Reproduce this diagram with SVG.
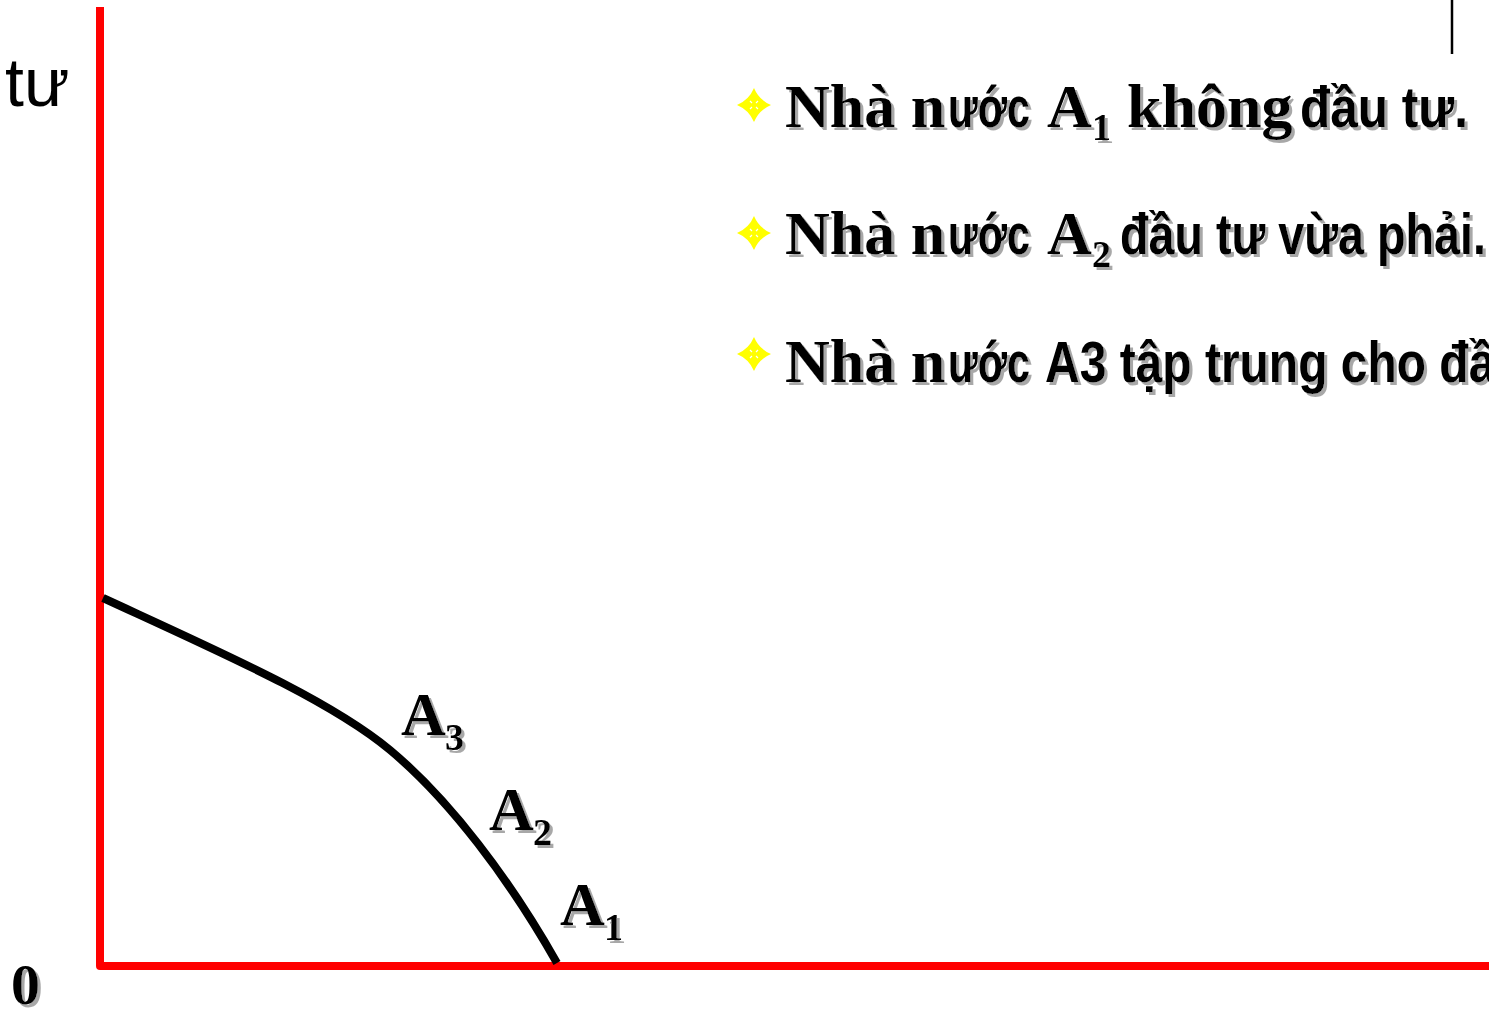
<svg xmlns="http://www.w3.org/2000/svg" width="1489" height="1009" viewBox="0 0 1489 1009">
<style>
.serif{font-family:"Liberation Serif","Times New Roman",serif;font-weight:bold;fill:#000}
.sans{font-family:"Liberation Sans Narrow","Liberation Sans",Arial,sans-serif;font-weight:bold;fill:#000;font-size:57px}
.big{font-size:62px}
.sub{font-size:38px}
.sh{filter:url(#shadow)}
.star{fill:#ffff00}
</style>
<defs>
<filter id="shadow" x="-20%" y="-30%" width="150%" height="170%">
<feDropShadow dx="3" dy="3" stdDeviation="0.4" flood-color="#a8a8a8" flood-opacity="1"/>
</filter>
<g id="bullet">
<path d="M0,-17 Q5,-5 17,0 Q5,5 0,17 Q-5,5 -17,0 Q-5,-5 0,-17 Z"/>
<path d="M-4,-4 L-2,-2 M4,-4 L2,-2 M-4,4 L-2,2 M4,4 L2,2" stroke="#fff" stroke-width="1.2" fill="none"/>
</g>
</defs>
<rect width="1489" height="1009" fill="#fff"/>

<g id="axes">
<path d="M100,7 L100,966 L1489,966" fill="none" stroke="#ff0000" stroke-width="8" stroke-linejoin="round"/>
</g>
<g id="tick">
<line x1="1452" y1="0" x2="1452" y2="54" stroke="#000" stroke-width="2.5"/>
</g>

<g id="connectors">
<path d="M103,598 C220,652 330,700 390,750 C450,800 510,880 557,963" fill="none" stroke="#000" stroke-width="8"/>
</g>

<g id="axis-labels">
<text x="5" y="106" font-family="Liberation Sans, Arial, sans-serif" font-size="68" fill="#000">tư</text>
<text class="serif sh" x="11" y="1004" font-size="58">0</text>
</g>

<g id="label-A3" class="sh">
<text class="serif big" x="401" y="735">A</text>
<text class="serif sub" x="445" y="750">3</text>
</g>
<g id="label-A2" class="sh">
<text class="serif big" x="489" y="830">A</text>
<text class="serif sub" x="533" y="845">2</text>
</g>
<g id="label-A1" class="sh">
<text class="serif big" x="560" y="925">A</text>
<text class="serif sub" x="604" y="940">1</text>
</g>

<g id="bullet-1">
<use href="#bullet" x="754" y="105" class="star"/>
<g class="sh">
<text class="serif big" x="785" y="127">Nhà n</text>
<text class="sans" transform="translate(948,127) scale(0.72,1)" textLength="113.9" lengthAdjust="spacingAndGlyphs">ước</text>
<text class="serif big" x="1047" y="127">A</text>
<text class="serif sub" x="1092" y="140">1</text>
<text class="serif big" x="1127" y="127">không</text>
<text class="sans" transform="translate(1300,127) scale(0.87,1)" textLength="193.1" lengthAdjust="spacingAndGlyphs">đầu tư.</text>
</g>
</g>

<g id="bullet-2">
<use href="#bullet" x="754" y="233" class="star"/>
<g class="sh">
<text class="serif big" x="785" y="254">Nhà n</text>
<text class="sans" transform="translate(948,254) scale(0.72,1)" textLength="113.9" lengthAdjust="spacingAndGlyphs">ước</text>
<text class="serif big" x="1047" y="254">A</text>
<text class="serif sub" x="1092" y="267">2</text>
<text class="sans" transform="translate(1120,254) scale(0.82,1)" textLength="446.3" lengthAdjust="spacingAndGlyphs">đầu tư vừa phải.</text>
</g>
</g>

<g id="bullet-3">
<use href="#bullet" x="754" y="354" class="star"/>
<g class="sh">
<text class="serif big" x="785" y="382">Nhà n</text>
<text class="sans" transform="translate(948,382) scale(0.72,1)" textLength="113.9" lengthAdjust="spacingAndGlyphs">ước</text>
<text class="sans" transform="translate(1045,382) scale(0.84,1)" textLength="663.1" lengthAdjust="spacingAndGlyphs">A3 tập trung cho đầu tư.</text>
</g>
</g>
</svg>
